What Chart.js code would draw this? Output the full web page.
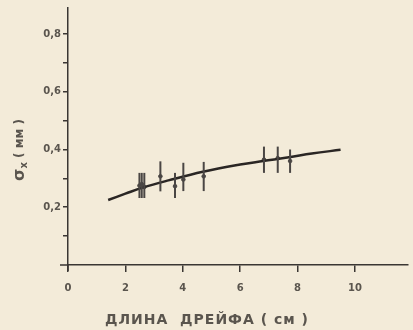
<!DOCTYPE html>
<html>
<head>
<meta charset="utf-8">
<script src="https://cdn.jsdelivr.net/npm/chart.js@4.4.1/dist/chart.umd.min.js"></script>
<style>
  html, body { margin: 0; padding: 0; background: #f3ebd9; }
  #wrap { width: 413px; height: 330px; }
</style>
</head>
<body>
<div id="wrap"><canvas id="driftChart" width="413" height="330"></canvas></div>
<script>
// measured points with error bars
const pointX = [2.49, 2.57, 2.66, 3.22, 3.73, 4.02, 4.73, 6.83, 7.31, 7.74];
const pointY = [0.275, 0.28, 0.27, 0.307, 0.273, 0.296, 0.307, 0.365, 0.37, 0.36];
const errLow = [0.232, 0.232, 0.232, 0.255, 0.232, 0.256, 0.256, 0.319, 0.319, 0.319];
const errHigh = [0.319, 0.319, 0.319, 0.359, 0.319, 0.354, 0.357, 0.41, 0.41, 0.40];

// smooth fitted curve
const curveX = [1.4, 2.0, 2.6, 3.5, 4.7, 6.0, 6.8, 7.7, 8.5, 9.5];
const curveY = [0.225, 0.247, 0.268, 0.293, 0.323, 0.348, 0.36, 0.373, 0.386, 0.399];

const xTicks = [0, 2, 4, 6, 8, 10];
const yTicks = [0.1, 0.2, 0.3, 0.4, 0.5, 0.6, 0.7, 0.8];
const yLabels = { '0.2': '0,2', '0.4': '0,4', '0.6': '0,6', '0.8': '0,8' };

const xTitle = 'ДЛИНА  ДРЕЙФА ( см )';
const yTitleMain = 'σ';
const yTitleSub = 'x';
const yTitleRest = ' ( мм )';

const ink = '#3a3633';
const labelInk = '#5a554e';

const errorBars = {
    id: 'errorBars',
    afterDatasetsDraw(chart) {
        const { ctx, scales: { x, y } } = chart;
        ctx.save();
        ctx.strokeStyle = '#4a4644';
        ctx.lineWidth = 2;
        pointX.forEach((v, i) => {
            const px = x.getPixelForValue(v);
            ctx.beginPath();
            ctx.moveTo(px, y.getPixelForValue(errLow[i]));
            ctx.lineTo(px, y.getPixelForValue(errHigh[i]));
            ctx.stroke();
        });
        ctx.restore();
    }
};

const axisTitles = {
    id: 'axisTitles',
    afterDraw(chart) {
        const ctx = chart.ctx;
        const area = chart.chartArea;
        ctx.save();
        // small overhang where the two axes cross
        ctx.strokeStyle = ink;
        ctx.lineWidth = 1.5;
        ctx.beginPath();
        ctx.moveTo(area.left - 8, area.bottom);
        ctx.lineTo(area.left, area.bottom);
        ctx.moveTo(area.left, area.bottom);
        ctx.lineTo(area.left, area.bottom + 6);
        ctx.stroke();

        ctx.fillStyle = labelInk;
        ctx.textBaseline = 'middle';
        // x title
        ctx.font = 'bold 14px "DejaVu Sans"';
        ctx.letterSpacing = '1px';
        ctx.textAlign = 'center';
        ctx.fillText(xTitle, 207, 320);
        ctx.letterSpacing = '0px';
        // y title, rotated
        ctx.translate(20, 150);
        ctx.rotate(-Math.PI / 2);
        ctx.font = 'bold 16px "DejaVu Sans"';
        const wMain = ctx.measureText(yTitleMain).width;
        ctx.font = 'bold 10px "DejaVu Sans"';
        const wSub = ctx.measureText(yTitleSub).width;
        ctx.font = 'bold 12px "DejaVu Sans"';
        const wRest = ctx.measureText(yTitleRest).width;
        let start = -(wMain + wSub + wRest) / 2;
        ctx.textAlign = 'left';
        ctx.font = 'bold 16px "DejaVu Sans"';
        ctx.fillText(yTitleMain, start, 0);
        ctx.font = 'bold 10px "DejaVu Sans"';
        ctx.fillText(yTitleSub, start + wMain, 4);
        ctx.font = 'bold 12px "DejaVu Sans"';
        ctx.fillText(yTitleRest, start + wMain + wSub, 0);
        ctx.restore();
    }
};

const ctx = document.getElementById('driftChart').getContext('2d');
new Chart(ctx, {
    type: 'scatter',
    data: {
        datasets: [{
            label: 'curve',
            data: curveX.map((v, i) => ({ x: v, y: curveY[i] })),
            showLine: true,
            tension: 0.4,
            borderColor: '#2a2624',
            borderWidth: 2.5,
            pointRadius: 0
        }, {
            label: 'points',
            data: pointX.map((v, i) => ({ x: v, y: pointY[i] })),
            pointRadius: 1.8,
            backgroundColor: '#4a4644',
            borderColor: '#4a4644'
        }]
    },
    options: {
        responsive: false,
        animation: false,
        layout: { padding: { top: 7, right: 0, left: 0, bottom: 0 } },
        plugins: {
            legend: { display: false },
            tooltip: { enabled: false }
        },
        scales: {
            x: {
                type: 'linear',
                min: 0,
                max: 11.85,
                afterBuildTicks: scale => { scale.ticks = xTicks.map(v => ({ value: v })); },
                afterFit: scale => { scale.height = 65; },
                border: { display: true, color: ink, width: 1.5 },
                grid: { drawOnChartArea: false, drawTicks: true, tickLength: 7, color: ink, lineWidth: 1.5 },
                ticks: {
                    padding: 10,
                    color: labelInk,
                    font: { family: 'DejaVu Sans', size: 10, weight: 'bold' },
                    callback: v => String(v)
                }
            },
            y: {
                min: 0,
                max: 0.89,
                afterBuildTicks: scale => { scale.ticks = yTicks.map(v => ({ value: v })); },
                afterFit: scale => { scale.width = 68; },
                border: { display: true, color: ink, width: 1.5 },
                grid: { drawOnChartArea: false, drawTicks: true, tickLength: 5, color: ink, lineWidth: 1.5 },
                ticks: {
                    padding: 2,
                    color: labelInk,
                    font: { family: 'DejaVu Sans', size: 10, weight: 'bold' },
                    callback: v => yLabels[v.toFixed(1)] || ''
                }
            }
        }
    },
    plugins: [errorBars, axisTitles]
});
</script>
</body>
</html>
